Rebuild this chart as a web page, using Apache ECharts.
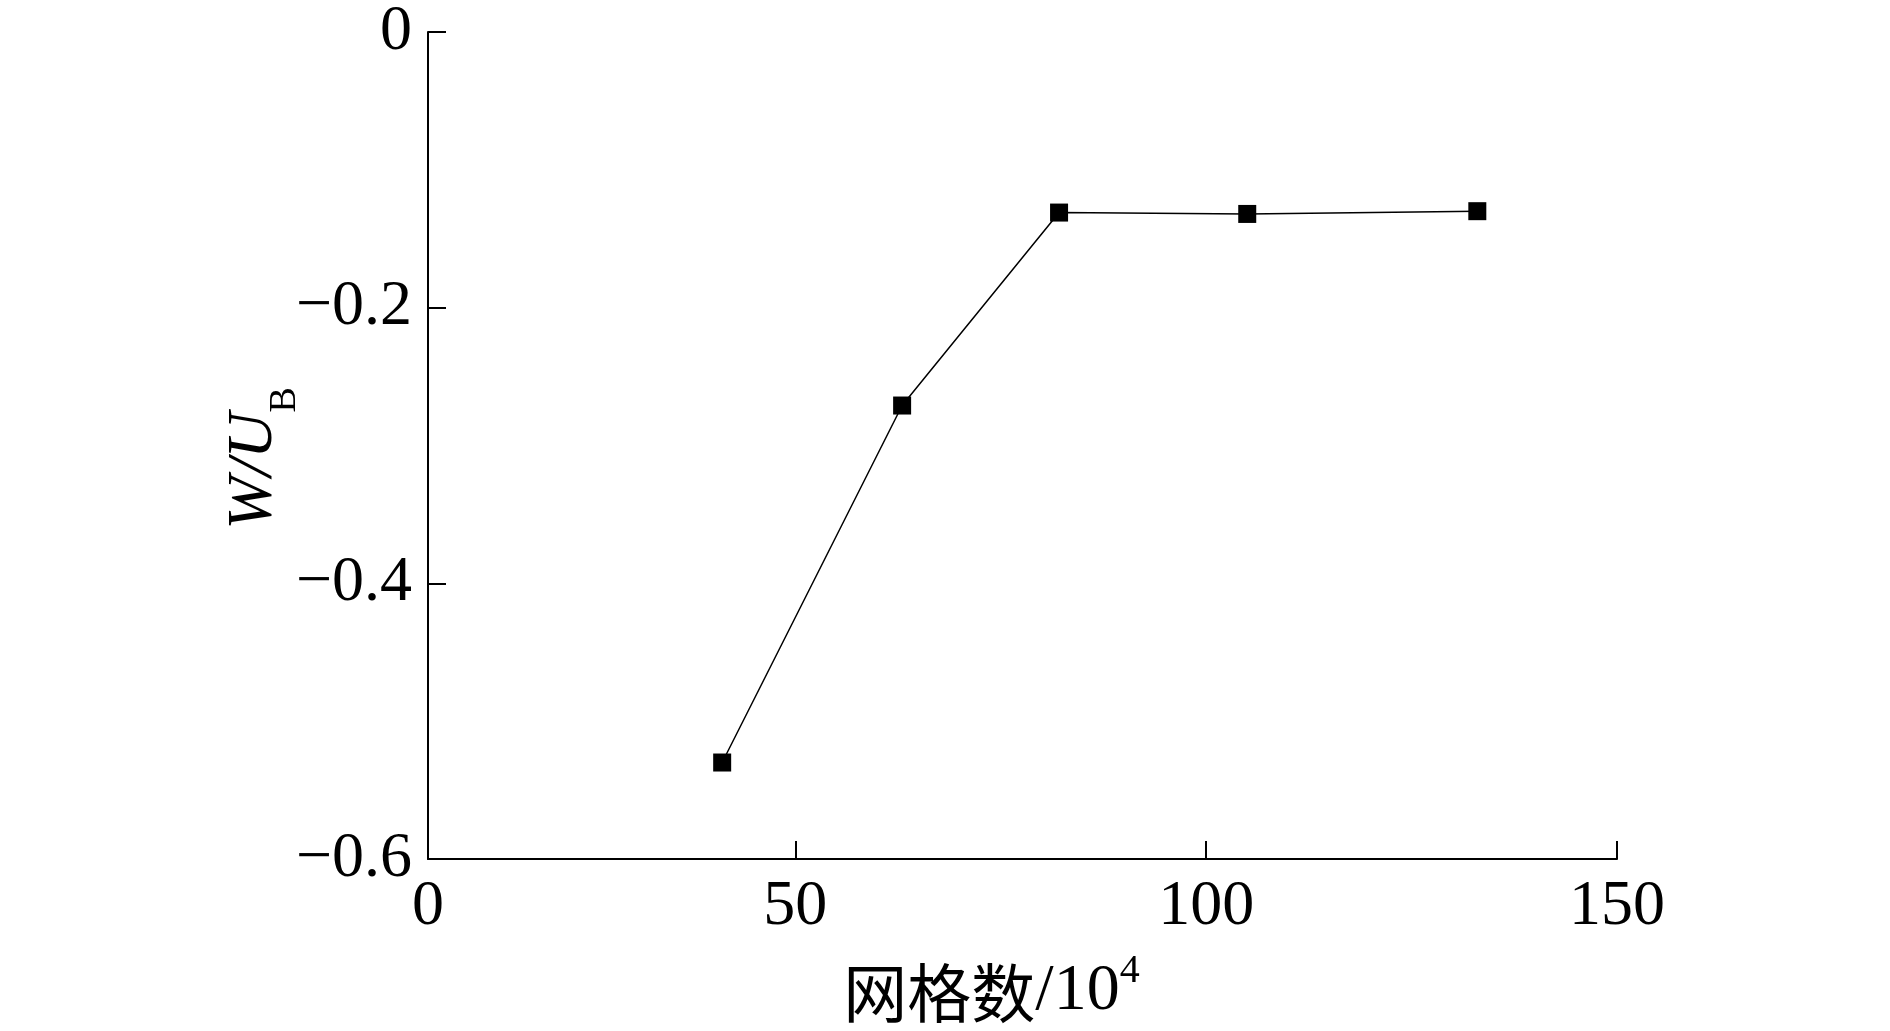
<!DOCTYPE html>
<html>
<head>
<meta charset="utf-8">
<script src="https://cdn.jsdelivr.net/npm/echarts@6/dist/echarts.min.js"></script>
<style>
html,body{margin:0;padding:0;background:#fff;}
#chart{width:1890px;height:1031px;}
</style>
</head>
<body>
<div id="chart"></div>
<script>
// Data
const meshCounts = [41.1, 63.0, 82.1, 105.0, 133.0];      // 网格数 / 10^4
const wOverUb = [-0.530, -0.271, -0.131, -0.132, -0.130]; // W/U_B
// Axis setup
const xAxisStart = 5.3;          // where the y axis crosses in the reference (labelled "0")
const xTickValues = [50, 100, 150];
const xLabelValues = [xAxisStart, 50, 100, 150];
const xTickLabels = ['0', '50', '100', '150'];

const serif = 'Liberation Serif';
const cjk = 'Noto Sans CJK SC';
const chart = echarts.init(document.getElementById('chart'));
chart.setOption({
  backgroundColor: '#fff',
  animation: false,
  grid: {left: 428, right: 273, top: 32, bottom: 172, containLabel: false, outerBoundsMode: 'none'},
  xAxis: {
    type: 'value',
    min: xAxisStart,
    max: 150,
    name: '{c|网格数}{t|/10}{p|4}',
    nameLocation: 'middle',
    nameGap: 92,
    nameMoveOverlap: false,
    nameTextStyle: {
      padding: [0, 62, 0, 0],
      rich: {
        c: {fontFamily: cjk, fontSize: 64, color: '#000', verticalAlign: 'bottom', lineHeight: 74},
        t: {fontFamily: serif, fontSize: 66, color: '#000', verticalAlign: 'bottom', lineHeight: 74},
        p: {fontFamily: serif, fontSize: 40, color: '#000', verticalAlign: 'top', lineHeight: 40}
      }
    },
    axisLine: {show: true, onZero: false, lineStyle: {color: '#000', width: 2}},
    axisTick: {show: true, inside: true, length: 18, lineStyle: {color: '#000', width: 2}, customValues: xTickValues},
    axisLabel: {
      show: true, color: '#000', fontFamily: serif, fontSize: 64, margin: 16,
      customValues: xLabelValues,
      formatter: function (v) {
        const i = xLabelValues.findIndex(function (u) { return Math.abs(u - v) < 1e-6; });
        return i >= 0 ? xTickLabels[i] : '';
      }
    },
    splitLine: {show: false}
  },
  yAxis: {
    type: 'value',
    min: -0.6,
    max: 0,
    interval: 0.2,
    name: '{i|W/U}{s|B}',
    nameLocation: 'middle',
    nameRotate: 90,
    nameGap: 124,
    nameMoveOverlap: false,
    nameTextStyle: {
      padding: [0, 26, 0, 0],
      rich: {
        i: {fontFamily: serif, fontStyle: 'italic', fontSize: 64, color: '#000', verticalAlign: 'top', lineHeight: 64},
        s: {fontFamily: serif, fontSize: 38, color: '#000', verticalAlign: 'bottom', lineHeight: 82}
      }
    },
    axisLine: {show: true, onZero: false, lineStyle: {color: '#000', width: 2}},
    axisTick: {show: true, inside: true, length: 18, lineStyle: {color: '#000', width: 2}},
    axisLabel: {
      show: true, color: '#000', fontFamily: serif, fontSize: 64, margin: 16,
      formatter: function (v) {
        const r = Math.round(v * 10) / 10;
        return r === 0 ? '0' : String(r).replace('-', '\u2212');
      }
    },
    splitLine: {show: false}
  },
  series: [{
    type: 'line',
    data: meshCounts.map(function (x, i) { return [x, wOverUb[i]]; }),
    symbol: 'rect',
    symbolSize: 18,
    itemStyle: {color: '#000'},
    lineStyle: {color: '#000', width: 1.5},
    z: 3
  }]
});
</script>
</body>
</html>
